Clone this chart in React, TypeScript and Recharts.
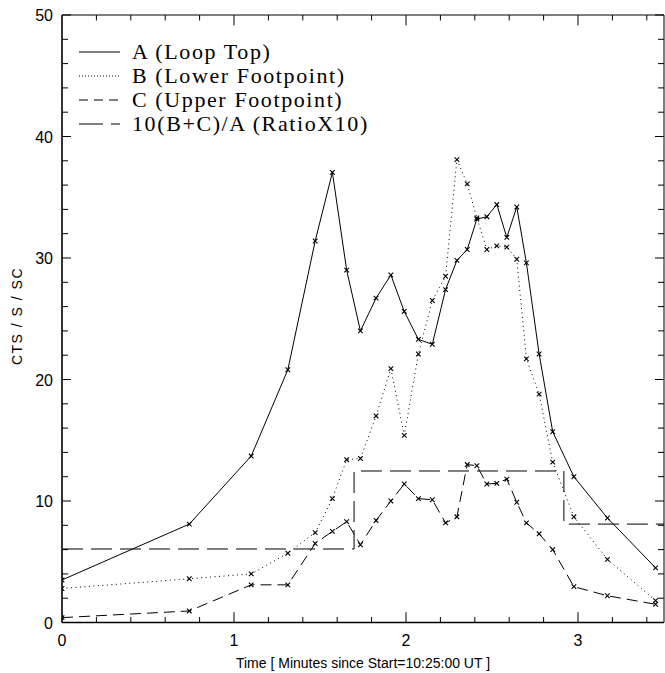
import { LineChart, Line, XAxis, YAxis, Legend, ReferenceLine } from 'recharts';

// sample times (minutes since 10:25:00 UT)
const times = [0, 0.74, 1.1, 1.313, 1.472, 1.572, 1.655, 1.735, 1.826, 1.912, 1.99, 2.072, 2.153, 2.23, 2.296, 2.356, 2.412, 2.47, 2.528, 2.586, 2.644, 2.7, 2.774, 2.853, 2.976, 3.171, 3.451];
const loopTop = [3.5, 8.1, 13.7, 20.8, 31.4, 37.05, 29.0, 24.0, 26.7, 28.6, 25.6, 23.3, 22.9, 27.4, 29.8, 30.7, 33.2, 33.4, 34.4, 31.7, 34.2, 29.6, 22.1, 15.7, 12.0, 8.6, 4.5];
const lowerFoot = [2.8, 3.6, 4.0, 5.7, 7.4, 10.2, 13.4, 13.5, 17.0, 20.9, 15.4, 22.1, 26.5, 28.5, 38.1, 36.1, 33.3, 30.7, 31.0, 30.9, 29.9, 21.7, 18.8, 13.2, 8.7, 5.2, 1.8];
const upperFoot = [0.4, 0.95, 3.1, 3.1, 6.5, 7.5, 8.3, 6.4, 8.4, 10.0, 11.4, 10.2, 10.1, 8.2, 8.7, 13.0, 12.9, 11.4, 11.45, 11.8, 9.9, 8.2, 7.3, 6.0, 2.95, 2.2, 1.5];

// 10(B+C)/A, drawn as steps
const ratioTimes = [0, 1.698, 2.918, 3.5];
const ratioValues = [6.05, 12.47, 8.1, 8.1];

const xTicks = [0, 0.2, 0.4, 0.6, 0.8, 1, 1.2, 1.4, 1.6, 1.8, 2, 2.2, 2.4, 2.6, 2.8, 3, 3.2, 3.4];
const yTicks = [0, 2, 4, 6, 8, 10, 12, 14, 16, 18, 20, 22, 24, 26, 28, 30, 32, 34, 36, 38, 40, 42, 44, 46, 48, 50];

const legendItems = [
  { label: 'A (Loop Top)', dash: undefined },
  { label: 'B (Lower Footpoint)', dash: '1 2' },
  { label: 'C (Upper Footpoint)', dash: '9 6' },
  { label: '10(B+C)/A (RatioX10)', dash: '24 8' },
];

const data = times.map((t, i) => ({ t, a: loopTop[i], b: lowerFoot[i], c: upperFoot[i] }));
const ratioData = ratioTimes.map((t, i) => ({ t, r: ratioValues[i] }));

const W = 665;
const H = 673;
const MARGIN = { top: 14, right: 0, bottom: 49.5, left: 61 };
const Y_MAX = 50;
// inward tick lengths on the x frame, in y units (about 12.15 px per unit)
const MAJOR_LEN = 0.85;
const MINOR_LEN = 0.45;

const SANS = '"Liberation Sans", Arial, sans-serif';
const INK = '#000';

const isMajor = (v: number, step: number) => Math.abs(v / step - Math.round(v / step)) < 1e-6;

const CrossDot = (props: any) => {
  const { cx, cy, index } = props;
  if (cx == null || cy == null) return <g key={index} />;
  const s = 2.3;
  return (
    <path
      key={index}
      d={`M${cx - s},${cy - s}L${cx + s},${cy + s}M${cx - s},${cy + s}L${cx + s},${cy - s}`}
      stroke={INK}
      strokeWidth={1.1}
      fill="none"
    />
  );
};

const BottomTick = ({ x, y, payload }: any) => {
  if (!isMajor(payload.value, 1)) return <g />;
  return (
    <text x={x} y={y + 23} textAnchor="middle" fontFamily={SANS} fontSize={16} fill={INK}>
      {payload.value}
    </text>
  );
};

const LeftTick = ({ x, y, payload }: any) => {
  const major = isMajor(payload.value, 10);
  return (
    <g>
      <line x1={x} x2={x + (major ? 9 : 6)} y1={y} y2={y} stroke={INK} />
      {major && (
        <text x={x - 9} y={y + 6} textAnchor="end" fontFamily={SANS} fontSize={16} fill={INK}>
          {payload.value}
        </text>
      )}
    </g>
  );
};

const RightTick = ({ x, y, payload }: any) => {
  const major = isMajor(payload.value, 10);
  return <line x1={x} x2={x - (major ? 9 : 6)} y1={y} y2={y} stroke={INK} />;
};

const LegendBox = () => (
  <div style={{ fontFamily: '"Liberation Serif", "DejaVu Serif", serif', fontSize: 22, letterSpacing: 1.6, color: INK }}>
    {legendItems.map((it) => (
      <div key={it.label} style={{ display: 'flex', alignItems: 'center', height: 24, lineHeight: '24px', whiteSpace: 'nowrap' }}>
        <svg width={41} height={24} style={{ marginRight: 12, flex: 'none' }}>
          <line x1={0} x2={41} y1={12} y2={12} stroke={INK} strokeWidth={1} strokeDasharray={it.dash} />
        </svg>
        <span>{it.label}</span>
      </div>
    ))}
  </div>
);

export default function App() {
  return (
    <div style={{ position: 'absolute', left: 0, top: 0, width: W, height: H, background: '#fff' }}>
      <LineChart width={W} height={H} data={data} margin={MARGIN}>
        <XAxis
          xAxisId="top"
          dataKey="t"
          orientation="top"
          type="number"
          domain={[0, 3.5]}
          allowDataOverflow
          height={1}
          tick={false}
          tickLine={false}
          axisLine={{ stroke: INK, strokeWidth: 1 }}
        />
        <YAxis
          yAxisId="right"
          orientation="right"
          type="number"
          domain={[0, Y_MAX]}
          allowDataOverflow
          ticks={yTicks}
          interval={0}
          width={1}
          tickSize={0}
          tickMargin={0}
          tick={<RightTick />}
          axisLine={{ stroke: INK, strokeWidth: 1 }}
        />
        <YAxis
          type="number"
          domain={[0, Y_MAX]}
          allowDataOverflow
          ticks={yTicks}
          interval={0}
          width={1}
          tickSize={0}
          tickMargin={0}
          tick={<LeftTick />}
          axisLine={{ stroke: '#333', strokeWidth: 2 }}
          label={{
            content: () => (
              <text
                x={22}
                y={316}
                transform="rotate(-90 22 316)"
                textAnchor="middle"
                fontFamily={SANS}
                fontSize={14}
                letterSpacing={1.5}
                fill={INK}
              >
                CTS / S / SC
              </text>
            ),
          }}
        />
        <XAxis
          dataKey="t"
          type="number"
          domain={[0, 3.5]}
          allowDataOverflow
          ticks={xTicks}
          interval={0}
          height={1}
          tickSize={0}
          tickMargin={0}
          tick={<BottomTick />}
          axisLine={{ stroke: INK, strokeWidth: 1.5 }}
          label={{
            content: () => (
              <text x={363} y={668} textAnchor="middle" fontFamily={SANS} fontSize={14} fill={INK}>
                Time [ Minutes since Start=10:25:00 UT ]
              </text>
            ),
          }}
        />
        {xTicks.map((v) => {
          const len = isMajor(v, 1) ? MAJOR_LEN : MINOR_LEN;
          return (
            <ReferenceLine
              key={`b${v}`}
              segment={[{ x: v, y: 0 }, { x: v, y: len }]}
              stroke={INK}
              strokeWidth={1}
            />
          );
        })}
        {xTicks.map((v) => {
          const len = isMajor(v, 1) ? MAJOR_LEN : MINOR_LEN;
          return (
            <ReferenceLine
              key={`t${v}`}
              segment={[{ x: v, y: Y_MAX }, { x: v, y: Y_MAX - len }]}
              stroke={INK}
              strokeWidth={1}
            />
          );
        })}
        <Legend
          layout="horizontal"
          verticalAlign="middle"
          align="center"
          content={<LegendBox />}
          wrapperStyle={{ position: 'absolute', top: 40, left: 79, width: 'auto' }}
        />
        <Line
          dataKey="r"
          data={ratioData}
          type="stepAfter"
          stroke={INK}
          strokeWidth={1}
          strokeDasharray="21 8"
          dot={false}
          activeDot={false}
          isAnimationActive={false}
          legendType="none"
        />
        <Line dataKey="c" type="linear" stroke={INK} strokeWidth={1} strokeDasharray="11 6" dot={CrossDot} activeDot={false} isAnimationActive={false} />
        <Line dataKey="b" type="linear" stroke={INK} strokeWidth={1} strokeDasharray="1 3.5" dot={CrossDot} activeDot={false} isAnimationActive={false} />
        <Line dataKey="a" type="linear" stroke={INK} strokeWidth={1} dot={CrossDot} activeDot={false} isAnimationActive={false} />
      </LineChart>
    </div>
  );
}
